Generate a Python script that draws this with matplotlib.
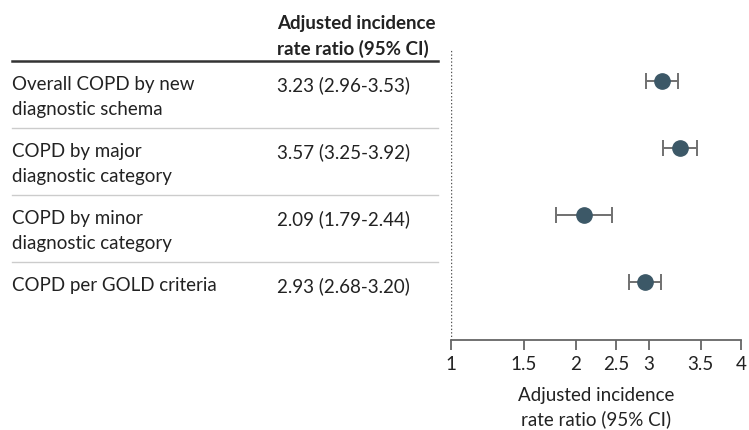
import matplotlib
matplotlib.use("Agg")
import matplotlib.pyplot as plt
import numpy as np

plt.rcParams['font.family'] = ['Lato', 'DejaVu Sans']

labels = ["Overall COPD by new\ndiagnostic schema",
          "COPD by major\ndiagnostic category",
          "COPD by minor\ndiagnostic category",
          "COPD per GOLD criteria"]
irr = [3.23, 3.57, 2.09, 2.93]
lo = [2.96, 3.25, 1.79, 2.68]
hi = [3.53, 3.92, 2.44, 3.20]
value_text = ["3.23 (2.96-3.53)", "3.57 (3.25-3.92)", "2.09 (1.79-2.44)", "2.93 (2.68-3.20)"]
tick_pos = [1, 1.5, 2, 2.5, 3, 4, 5]
tick_labels = ["1", "1.5", "2", "2.5", "3", "3.5", "4"]
header = "Adjusted incidence\nrate ratio (95% CI)"
xlabel = "Adjusted incidence\nrate ratio (95% CI)"

W, H = 749, 431
fig = plt.figure(figsize=(W/100, H/100), dpi=100)

ax_left, ax_right = 450.7, 741
ax_top, ax_bot = 50, 341
ax = fig.add_axes([ax_left/W, 1-ax_bot/H, (ax_right-ax_left)/W, (ax_bot-ax_top)/H])
row_px = [82, 149, 215.7, 282.7]
sp = 67.0
y = np.arange(len(irr))
ylim = (3 + (ax_bot-row_px[3])/sp, 0 - (row_px[0]-ax_top)/sp)

dark = "#222222"
mcol = "#3c5867"
fs = 13.5
ls = 1.55

ax.set_xscale('log')
ax.set_xlim(1, 5)
ax.set_ylim(*ylim)
err = [np.array(irr)-np.array(lo), np.array(hi)-np.array(irr)]
ax.errorbar(irr, y, xerr=err, fmt='o', color=mcol, ms=11, ecolor="#707070",
            elinewidth=1.4, capsize=6, capthick=1.4, zorder=3)
ax.axvline(1, color="#555555", lw=1, ls=(0, (1, 1.5)), zorder=1)
for s in ['top', 'right', 'left']:
    ax.spines[s].set_visible(False)
ax.spines['bottom'].set_color("#666666")
ax.spines['bottom'].set_linewidth(1.3)
ax.set_yticks([])
ax.set_xticks(tick_pos)
ax.set_xticklabels(tick_labels)
ax.xaxis.set_minor_locator(matplotlib.ticker.NullLocator())
ax.tick_params(axis='x', direction='out', length=7, width=1.3, color="#666666",
               labelsize=fs, labelcolor=dark, pad=4)
ax.set_xlabel(xlabel, fontsize=fs, color=dark, labelpad=10, linespacing=1.4)

# table axes
tax = fig.add_axes([0, 1-ax_bot/H, ax_left/W, (ax_bot-ax_top)/H])
tax.set_xlim(0, ax_left)
tax.set_ylim(*ylim)
tax.axis('off')

def py(p):
    return (p - row_px[0]) / sp

tax.text(277, py(15), header, fontsize=fs, fontweight='bold', color=dark,
         va='top', ha='left', linespacing=ls, clip_on=False)
tax.plot([12, 438], [py(62), py(62)], color="#333333", lw=1.8, clip_on=False)
for p in [129, 196, 263]:
    tax.plot([12, 438], [py(p), py(p)], color="#cccccc", lw=1, clip_on=False)
for i in range(len(labels)):
    tax.text(12, i + py(76), labels[i], fontsize=fs, color=dark, va='top', ha='left',
             linespacing=ls, clip_on=False)
    tax.text(277, i + py(76), value_text[i], fontsize=fs, color=dark, va='top', ha='left',
             clip_on=False)

fig.savefig("out.png", dpi=100)
